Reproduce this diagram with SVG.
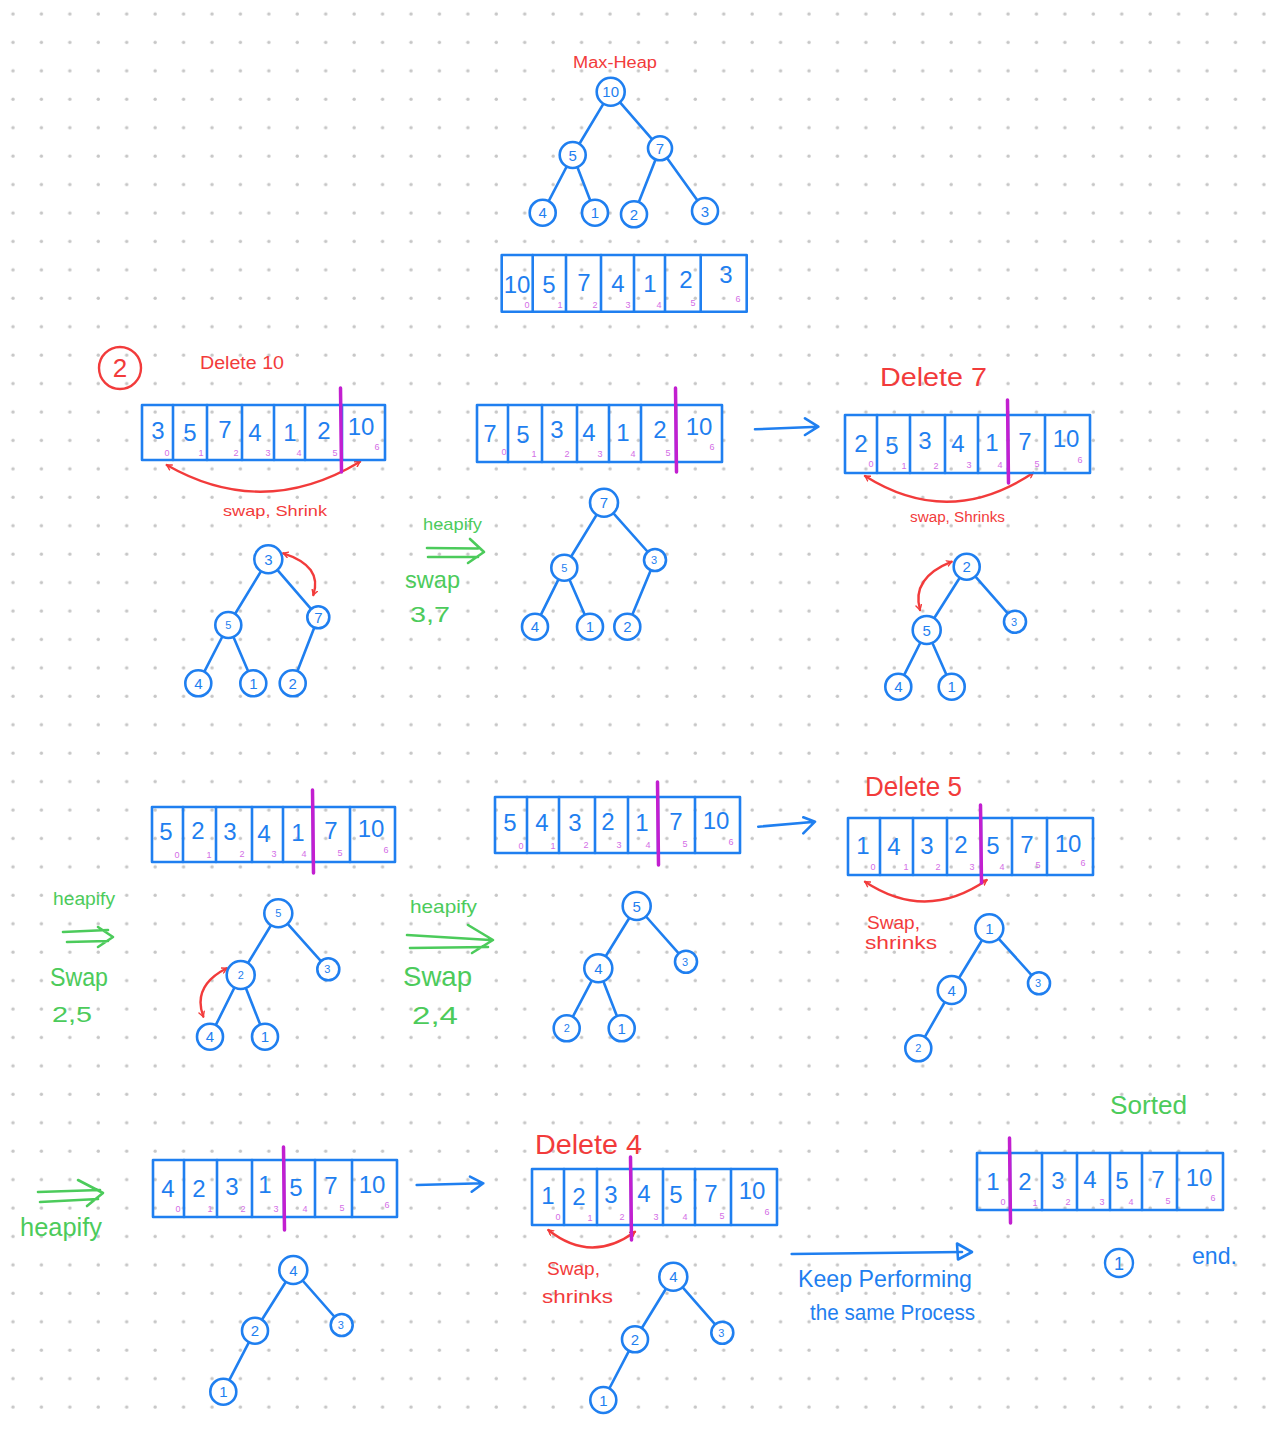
<svg xmlns="http://www.w3.org/2000/svg" width="1266" height="1433" viewBox="0 0 1266 1433">
<defs>
<pattern id="dots" patternUnits="userSpaceOnUse" width="28.43" height="28.43">
<circle cx="13" cy="14" r="1.7" fill="#c6c6c6"/>
</pattern>
<marker id="rh" viewBox="0 0 10 10" refX="8" refY="5" markerWidth="7" markerHeight="7" markerUnits="userSpaceOnUse" orient="auto-start-reverse">
<path d="M1,1 L8,5 L1,9" fill="none" stroke="#f23b3b" stroke-width="2" stroke-linecap="round" stroke-linejoin="round"/>
</marker>
<style>
.b{fill:none;stroke:#1f7ff0;stroke-width:2.6;stroke-linecap:round;stroke-linejoin:round}
.rl{fill:none;stroke:#f23b3b;stroke-width:2.4;stroke-linecap:round;stroke-linejoin:round}
.gl{fill:none;stroke:#4ccb5b;stroke-width:2.6;stroke-linecap:round;stroke-linejoin:round}
.sep{stroke:#c21fd0;stroke-width:3.5;stroke-linecap:round}
.nd circle{fill:#fff;stroke:#1f7ff0;stroke-width:2.6}
.nd text{font-family:"Liberation Sans",Arial,sans-serif;font-size:15px;fill:#1f7ff0;text-anchor:middle}
.nd text.s{font-size:11px}
.arr rect{fill:none;stroke:#1f7ff0;stroke-width:2.6;stroke-linejoin:round}
.arr line.d{stroke:#1f7ff0;stroke-width:2.6;stroke-linecap:round}
.arr text.v{font-family:"Liberation Sans",Arial,sans-serif;font-size:24px;fill:#1f7ff0;text-anchor:middle}
.arr text.i{font-family:"Liberation Sans",Arial,sans-serif;font-size:9px;fill:#d36ee6;text-anchor:middle}
.t{font-family:"Liberation Sans",Arial,sans-serif}
.tr{fill:#f23b3b}
.tg{fill:#4ccb5b}
.tb{fill:#1f7ff0}
</style>
</defs>
<rect width="1266" height="1433" fill="#ffffff"/>
<rect width="1266" height="1433" fill="url(#dots)"/>

<!-- connectors -->
<g id="connectors">
<g class="b">
<path d="M610.7,91.7 L572.7,155 M610.7,91.7 L660,148.3 M572.7,155 L542.7,212.7 M572.7,155 L595,212.7 M660,148.3 L634,214.3 M660,148.3 L705,211"/>
<path d="M268.3,559.3 L228.3,625 M268.3,559.3 L318.3,617.3 M228.3,625 L198.3,683.3 M228.3,625 L253.3,683.3 M318.3,617.3 L292.7,683.3"/>
<path d="M604,502.7 L564.3,567.7 M604,502.7 L655,560 M564.3,567.7 L535,626.7 M564.3,567.7 L590,626.7 M655,560 L627.3,626.7"/>
<path d="M966.7,566.7 L926.7,630 M966.7,566.7 L1015,621.7 M926.7,630 L898.3,686.7 M926.7,630 L951.7,686.7"/>
<path d="M278.3,913.3 L240.7,975 M278.3,913.3 L328.3,969.3 M240.7,975 L210,1036.7 M240.7,975 L265,1036.7"/>
<path d="M636.7,906 L598.3,968.3 M636.7,906 L686,961.7 M598.3,968.3 L566.7,1028.3 M598.3,968.3 L621.7,1028.3"/>
<path d="M989.3,928.3 L951.7,990 M989.3,928.3 L1039,983.3 M951.7,990 L918.3,1048.3"/>
<path d="M293.3,1270 L255,1330.7 M293.3,1270 L341.7,1325 M255,1330.7 L223.3,1391.7"/>
<path d="M673.3,1276.7 L635,1339.3 M673.3,1276.7 L722.3,1332.7 M635,1339.3 L603.3,1400"/>
<path d="M755,429.3 L818.3,426.7 M805,418.3 L818.3,426.7 L805,435"/>
<path d="M758.3,826.7 L815,821.7 M803.3,817.3 L815,821.7 L803.3,833.3"/>
<path d="M416.7,1185 L483.3,1183.3 M470,1176.7 L483.3,1183.3 L471.7,1191.7"/>
<path d="M791.7,1254 L962,1252"/>
<path d="M957,1243.5 L972,1252 L958,1259.5 Z"/>
</g>
<g class="rl">
<path d="M166.7,465 Q263,520 360,461.7" marker-start="url(#rh)" marker-end="url(#rh)"/>
<path d="M865,476 Q949,529 1033.3,472.7" marker-start="url(#rh)" marker-end="url(#rh)"/>
<path d="M865,881.7 Q926,922 986.7,880" marker-start="url(#rh)" marker-end="url(#rh)"/>
<path d="M548.3,1230 Q591,1264 635,1231.7" marker-start="url(#rh)" marker-end="url(#rh)"/>
<path d="M283.3,553.3 Q323,566 313.3,595" marker-start="url(#rh)" marker-end="url(#rh)"/>
<path d="M951.7,561.7 Q911,578 920,610" marker-start="url(#rh)" marker-end="url(#rh)"/>
<path d="M226.7,968.3 Q192,986 203.3,1016.7" marker-start="url(#rh)" marker-end="url(#rh)"/>
</g>
<g class="gl">
<path d="M427,548 L478,548.5 M428,557 L478,557 M470,539 L484,552 L468,563"/>
<path d="M63,932 L108,930 M67,942 L108,941 M98,927 L113,937 L98,947"/>
<path d="M407,935 L490,940 M410,948 L488,947 M468,925 L493,940 L472,953"/>
<path d="M38,1192 L100,1190 M40,1202 L98,1199 M78,1180 L103,1193 L87,1206"/>
</g>
</g>

<!-- labels -->
<g id="labels">
<text class="t tr" x="573" y="68" font-size="16" textLength="84" lengthAdjust="spacingAndGlyphs">Max-Heap</text>
<g id="step2-badge">
<circle cx="120" cy="368" r="21" fill="none" stroke="#f23b3b" stroke-width="2.4"/>
<text class="t tr" x="120" y="377" font-size="26" text-anchor="middle">2</text>
</g>
<text class="t tr" x="200" y="369" font-size="18" textLength="84" lengthAdjust="spacingAndGlyphs">Delete 10</text>
<text class="t tr" x="223" y="516" font-size="15" textLength="104" lengthAdjust="spacingAndGlyphs">swap, Shrink</text>
<text class="t tr" x="880" y="386" font-size="25" textLength="107" lengthAdjust="spacingAndGlyphs">Delete 7</text>
<text class="t tr" x="910" y="522" font-size="14" textLength="95" lengthAdjust="spacingAndGlyphs">swap, Shrinks</text>
<text class="t tg" x="423" y="530" font-size="17" textLength="59" lengthAdjust="spacingAndGlyphs">heapify</text>
<text class="t tg" x="405" y="588" font-size="24" textLength="55" lengthAdjust="spacingAndGlyphs">swap</text>
<text class="t tg" x="410" y="622" font-size="22" textLength="40" lengthAdjust="spacingAndGlyphs">3,7</text>
<text class="t tg" x="53" y="905" font-size="18" textLength="62" lengthAdjust="spacingAndGlyphs">heapify</text>
<text class="t tg" x="50" y="986" font-size="25" textLength="58" lengthAdjust="spacingAndGlyphs">Swap</text>
<text class="t tg" x="52" y="1022" font-size="22" textLength="40" lengthAdjust="spacingAndGlyphs">2,5</text>
<text class="t tg" x="410" y="913" font-size="19" textLength="67" lengthAdjust="spacingAndGlyphs">heapify</text>
<text class="t tg" x="403" y="986" font-size="28" textLength="69" lengthAdjust="spacingAndGlyphs">Swap</text>
<text class="t tg" x="412" y="1024" font-size="24" textLength="46" lengthAdjust="spacingAndGlyphs">2,4</text>
<text class="t tr" x="865" y="796" font-size="28" textLength="97" lengthAdjust="spacingAndGlyphs">Delete 5</text>
<text class="t tr" x="867" y="929" font-size="18" textLength="53" lengthAdjust="spacingAndGlyphs">Swap,</text>
<text class="t tr" x="865" y="949" font-size="18" textLength="72" lengthAdjust="spacingAndGlyphs">shrinks</text>
<text class="t tg" x="20" y="1236" font-size="26" textLength="82" lengthAdjust="spacingAndGlyphs">heapify</text>
<text class="t tr" x="535" y="1154" font-size="28" textLength="107" lengthAdjust="spacingAndGlyphs">Delete 4</text>
<text class="t tr" x="547" y="1275" font-size="18" textLength="53" lengthAdjust="spacingAndGlyphs">Swap,</text>
<text class="t tr" x="542" y="1303" font-size="19" textLength="71" lengthAdjust="spacingAndGlyphs">shrinks</text>
<text class="t tb" x="798" y="1287" font-size="24" textLength="174" lengthAdjust="spacingAndGlyphs">Keep Performing</text>
<text class="t tb" x="810" y="1320" font-size="22" textLength="165" lengthAdjust="spacingAndGlyphs">the same Process</text>
<text class="t tg" x="1110" y="1114" font-size="26" textLength="77" lengthAdjust="spacingAndGlyphs">Sorted</text>
<g id="step1-badge">
<circle cx="1119" cy="1263" r="14" fill="none" stroke="#1f7ff0" stroke-width="2.4"/>
<text class="t tb" x="1119" y="1270" font-size="18" text-anchor="middle">1</text>
</g>
<text class="t tb" x="1192" y="1264" font-size="24" textLength="45" lengthAdjust="spacingAndGlyphs">end.</text>
</g>

<!-- arrays -->
<g id="array1" class="arr">
<rect x="501.7" y="255" width="245" height="56.7"/>
<line class="d" x1="532.7" y1="255" x2="532.7" y2="311.7"/><line class="d" x1="566" y1="255" x2="566" y2="311.7"/><line class="d" x1="601" y1="255" x2="601" y2="311.7"/><line class="d" x1="634" y1="255" x2="634" y2="311.7"/><line class="d" x1="665" y1="255" x2="665" y2="311.7"/><line class="d" x1="700.7" y1="255" x2="700.7" y2="311.7"/>
<text class="v" x="517" y="293">10</text><text class="v" x="549" y="293">5</text><text class="v" x="584" y="291">7</text><text class="v" x="618" y="292">4</text><text class="v" x="650" y="292">1</text><text class="v" x="686" y="288">2</text><text class="v" x="726" y="283">3</text>
<text class="i" x="527" y="308">0</text><text class="i" x="560" y="308">1</text><text class="i" x="595" y="308">2</text><text class="i" x="628" y="308">3</text><text class="i" x="659" y="308">4</text><text class="i" x="693" y="306">5</text><text class="i" x="738" y="302">6</text>
</g>

<g id="array2" class="arr">
<rect x="142" y="405" width="243" height="55"/>
<line class="d" x1="173" y1="405" x2="173" y2="460"/><line class="d" x1="207" y1="405" x2="207" y2="460"/><line class="d" x1="242" y1="405" x2="242" y2="460"/><line class="d" x1="274" y1="405" x2="274" y2="460"/><line class="d" x1="305" y1="405" x2="305" y2="460"/><line class="d" x1="342" y1="405" x2="342" y2="460"/>
<text class="v" x="158" y="439">3</text><text class="v" x="190" y="441">5</text><text class="v" x="225" y="438">7</text><text class="v" x="255" y="441">4</text><text class="v" x="290" y="441">1</text><text class="v" x="324" y="439">2</text><text class="v" x="361" y="435">10</text>
<text class="i" x="167" y="456">0</text><text class="i" x="201" y="456">1</text><text class="i" x="236" y="456">2</text><text class="i" x="268" y="456">3</text><text class="i" x="299" y="456">4</text><text class="i" x="335" y="456">5</text><text class="i" x="377" y="450">6</text>
<line class="sep" x1="340.5" y1="388" x2="341.5" y2="472"/>
</g>

<g id="array3" class="arr">
<rect x="477" y="405" width="245" height="57"/>
<line class="d" x1="508" y1="405" x2="508" y2="462"/><line class="d" x1="542" y1="405" x2="542" y2="462"/><line class="d" x1="577" y1="405" x2="577" y2="462"/><line class="d" x1="609" y1="405" x2="609" y2="462"/><line class="d" x1="641" y1="405" x2="641" y2="462"/><line class="d" x1="676" y1="405" x2="676" y2="462"/>
<text class="v" x="490" y="442">7</text><text class="v" x="523" y="443">5</text><text class="v" x="557" y="438">3</text><text class="v" x="589" y="441">4</text><text class="v" x="623" y="441">1</text><text class="v" x="660" y="438">2</text><text class="v" x="699" y="435">10</text>
<text class="i" x="504" y="455">0</text><text class="i" x="534" y="457">1</text><text class="i" x="567" y="457">2</text><text class="i" x="600" y="457">3</text><text class="i" x="633" y="457">4</text><text class="i" x="668" y="456">5</text><text class="i" x="712" y="450">6</text>
<line class="sep" x1="675.5" y1="388" x2="676.5" y2="472"/>
</g>

<g id="array4" class="arr">
<rect x="845" y="415" width="245" height="58"/>
<line class="d" x1="877" y1="415" x2="877" y2="473"/><line class="d" x1="910" y1="415" x2="910" y2="473"/><line class="d" x1="945" y1="415" x2="945" y2="473"/><line class="d" x1="978" y1="415" x2="978" y2="473"/><line class="d" x1="1008" y1="415" x2="1008" y2="473"/><line class="d" x1="1045" y1="415" x2="1045" y2="473"/>
<text class="v" x="861" y="452">2</text><text class="v" x="892" y="454">5</text><text class="v" x="925" y="449">3</text><text class="v" x="958" y="452">4</text><text class="v" x="992" y="451">1</text><text class="v" x="1025" y="450">7</text><text class="v" x="1066" y="447">10</text>
<text class="i" x="871" y="467">0</text><text class="i" x="904" y="469">1</text><text class="i" x="936" y="469">2</text><text class="i" x="969" y="468">3</text><text class="i" x="1000" y="468">4</text><text class="i" x="1037" y="467">5</text><text class="i" x="1080" y="463">6</text>
<line class="sep" x1="1007.5" y1="400" x2="1008.5" y2="483"/>
</g>

<g id="array5" class="arr">
<rect x="152" y="807" width="243" height="55"/>
<line class="d" x1="183" y1="807" x2="183" y2="862"/><line class="d" x1="216" y1="807" x2="216" y2="862"/><line class="d" x1="252" y1="807" x2="252" y2="862"/><line class="d" x1="283" y1="807" x2="283" y2="862"/><line class="d" x1="313" y1="807" x2="313" y2="862"/><line class="d" x1="350" y1="807" x2="350" y2="862"/>
<text class="v" x="166" y="840">5</text><text class="v" x="198" y="839">2</text><text class="v" x="230" y="840">3</text><text class="v" x="264" y="842">4</text><text class="v" x="298" y="841">1</text><text class="v" x="331" y="839">7</text><text class="v" x="371" y="837">10</text>
<text class="i" x="177" y="858">0</text><text class="i" x="209" y="858">1</text><text class="i" x="242" y="857">2</text><text class="i" x="274" y="857">3</text><text class="i" x="304" y="857">4</text><text class="i" x="340" y="856">5</text><text class="i" x="386" y="853">6</text>
<line class="sep" x1="312.5" y1="790" x2="313.5" y2="873"/>
</g>

<g id="array6" class="arr">
<rect x="495" y="797" width="245" height="56"/>
<line class="d" x1="527" y1="797" x2="527" y2="853"/><line class="d" x1="559" y1="797" x2="559" y2="853"/><line class="d" x1="595" y1="797" x2="595" y2="853"/><line class="d" x1="628" y1="797" x2="628" y2="853"/><line class="d" x1="658" y1="797" x2="658" y2="853"/><line class="d" x1="695" y1="797" x2="695" y2="853"/>
<text class="v" x="510" y="831">5</text><text class="v" x="542" y="831">4</text><text class="v" x="575" y="831">3</text><text class="v" x="608" y="830">2</text><text class="v" x="642" y="831">1</text><text class="v" x="676" y="830">7</text><text class="v" x="716" y="829">10</text>
<text class="i" x="521" y="849">0</text><text class="i" x="553" y="849">1</text><text class="i" x="586" y="848">2</text><text class="i" x="619" y="848">3</text><text class="i" x="648" y="848">4</text><text class="i" x="685" y="847">5</text><text class="i" x="731" y="845">6</text>
<line class="sep" x1="657.5" y1="782" x2="658.5" y2="865"/>
</g>

<g id="array7" class="arr">
<rect x="848" y="818" width="245" height="57"/>
<line class="d" x1="880" y1="818" x2="880" y2="875"/><line class="d" x1="913" y1="818" x2="913" y2="875"/><line class="d" x1="947" y1="818" x2="947" y2="875"/><line class="d" x1="981" y1="818" x2="981" y2="875"/><line class="d" x1="1012" y1="818" x2="1012" y2="875"/><line class="d" x1="1047" y1="818" x2="1047" y2="875"/>
<text class="v" x="863" y="854">1</text><text class="v" x="894" y="855">4</text><text class="v" x="927" y="854">3</text><text class="v" x="961" y="853">2</text><text class="v" x="993" y="854">5</text><text class="v" x="1027" y="853">7</text><text class="v" x="1068" y="852">10</text>
<text class="i" x="873" y="870">0</text><text class="i" x="906" y="870">1</text><text class="i" x="938" y="870">2</text><text class="i" x="972" y="870">3</text><text class="i" x="1002" y="870">4</text><text class="i" x="1038" y="868">5</text><text class="i" x="1083" y="866">6</text>
<line class="sep" x1="980.5" y1="805" x2="981.5" y2="883"/>
</g>

<g id="array8" class="arr">
<rect x="153" y="1160" width="244" height="57"/>
<line class="d" x1="184" y1="1160" x2="184" y2="1217"/><line class="d" x1="217" y1="1160" x2="217" y2="1217"/><line class="d" x1="252" y1="1160" x2="252" y2="1217"/><line class="d" x1="284" y1="1160" x2="284" y2="1217"/><line class="d" x1="315" y1="1160" x2="315" y2="1217"/><line class="d" x1="352" y1="1160" x2="352" y2="1217"/>
<text class="v" x="168" y="1197">4</text><text class="v" x="199" y="1197">2</text><text class="v" x="232" y="1195">3</text><text class="v" x="265" y="1193">1</text><text class="v" x="296" y="1196">5</text><text class="v" x="331" y="1194">7</text><text class="v" x="372" y="1193">10</text>
<text class="i" x="178" y="1212">0</text><text class="i" x="210" y="1212">1</text><text class="i" x="243" y="1212">2</text><text class="i" x="276" y="1212">3</text><text class="i" x="305" y="1212">4</text><text class="i" x="342" y="1211">5</text><text class="i" x="387" y="1208">6</text>
<line class="sep" x1="283.5" y1="1147" x2="284.5" y2="1230"/>
</g>

<g id="array9" class="arr">
<rect x="532" y="1169" width="245" height="56"/>
<line class="d" x1="564" y1="1169" x2="564" y2="1225"/><line class="d" x1="597" y1="1169" x2="597" y2="1225"/><line class="d" x1="631" y1="1169" x2="631" y2="1225"/><line class="d" x1="663" y1="1169" x2="663" y2="1225"/><line class="d" x1="695" y1="1169" x2="695" y2="1225"/><line class="d" x1="731" y1="1169" x2="731" y2="1225"/>
<text class="v" x="548" y="1204">1</text><text class="v" x="579" y="1205">2</text><text class="v" x="611" y="1203">3</text><text class="v" x="644" y="1202">4</text><text class="v" x="676" y="1203">5</text><text class="v" x="711" y="1202">7</text><text class="v" x="752" y="1199">10</text>
<text class="i" x="558" y="1220">0</text><text class="i" x="590" y="1221">1</text><text class="i" x="622" y="1220">2</text><text class="i" x="656" y="1220">3</text><text class="i" x="685" y="1220">4</text><text class="i" x="722" y="1219">5</text><text class="i" x="767" y="1215">6</text>
<line class="sep" x1="630.5" y1="1157" x2="631.5" y2="1240"/>
</g>

<g id="array10" class="arr">
<rect x="977" y="1153" width="246" height="57"/>
<line class="d" x1="1010" y1="1153" x2="1010" y2="1210"/><line class="d" x1="1042" y1="1153" x2="1042" y2="1210"/><line class="d" x1="1077" y1="1153" x2="1077" y2="1210"/><line class="d" x1="1110" y1="1153" x2="1110" y2="1210"/><line class="d" x1="1142" y1="1153" x2="1142" y2="1210"/><line class="d" x1="1177" y1="1153" x2="1177" y2="1210"/>
<text class="v" x="993" y="1190">1</text><text class="v" x="1025" y="1190">2</text><text class="v" x="1058" y="1189">3</text><text class="v" x="1090" y="1188">4</text><text class="v" x="1122" y="1189">5</text><text class="v" x="1158" y="1188">7</text><text class="v" x="1199" y="1186">10</text>
<text class="i" x="1003" y="1205">0</text><text class="i" x="1035" y="1206">1</text><text class="i" x="1068" y="1205">2</text><text class="i" x="1102" y="1205">3</text><text class="i" x="1131" y="1205">4</text><text class="i" x="1168" y="1204">5</text><text class="i" x="1213" y="1201">6</text>
<line class="sep" x1="1009.5" y1="1138" x2="1010.5" y2="1223"/>
</g>

<!-- tree nodes -->
<g id="t1-10" class="nd"><circle cx="610.7" cy="91.7" r="14"/><text x="610.7" y="97">10</text></g>
<g id="t1-5" class="nd"><circle cx="572.7" cy="155" r="13"/><text x="572.7" y="160.5">5</text></g>
<g id="t1-7" class="nd"><circle cx="660" cy="148.3" r="12"/><text x="660" y="153.8">7</text></g>
<g id="t1-4" class="nd"><circle cx="542.7" cy="212.7" r="13"/><text x="542.7" y="218.2">4</text></g>
<g id="t1-1" class="nd"><circle cx="595" cy="212.7" r="13"/><text x="595" y="218.2">1</text></g>
<g id="t1-2" class="nd"><circle cx="634" cy="214.3" r="13"/><text x="634" y="219.8">2</text></g>
<g id="t1-3" class="nd"><circle cx="705" cy="211" r="13"/><text x="705" y="216.5">3</text></g>

<g id="t2-3" class="nd"><circle cx="268.3" cy="559.3" r="14"/><text x="268.3" y="564.8">3</text></g>
<g id="t2-5" class="nd"><circle cx="228.3" cy="625" r="13"/><text class="s" x="228.3" y="629">5</text></g>
<g id="t2-7" class="nd"><circle cx="318.3" cy="617.3" r="11"/><text x="318.3" y="622.5">7</text></g>
<g id="t2-4" class="nd"><circle cx="198.3" cy="683.3" r="13"/><text x="198.3" y="688.8">4</text></g>
<g id="t2-1" class="nd"><circle cx="253.3" cy="683.3" r="13"/><text x="253.3" y="688.8">1</text></g>
<g id="t2-2" class="nd"><circle cx="292.7" cy="683.3" r="13"/><text x="292.7" y="688.8">2</text></g>

<g id="t3-7" class="nd"><circle cx="604" cy="502.7" r="14"/><text x="604" y="508.2">7</text></g>
<g id="t3-5" class="nd"><circle cx="564.3" cy="567.7" r="13"/><text class="s" x="564.3" y="571.7">5</text></g>
<g id="t3-3" class="nd"><circle cx="655" cy="560" r="11"/><text class="s" x="654" y="564">3</text></g>
<g id="t3-4" class="nd"><circle cx="535" cy="626.7" r="13"/><text x="535" y="632.2">4</text></g>
<g id="t3-1" class="nd"><circle cx="590" cy="626.7" r="13"/><text x="590" y="632.2">1</text></g>
<g id="t3-2" class="nd"><circle cx="627.3" cy="626.7" r="13"/><text x="627.3" y="632.2">2</text></g>

<g id="t4-2" class="nd"><circle cx="966.7" cy="566.7" r="13"/><text x="966.7" y="572.2">2</text></g>
<g id="t4-5" class="nd"><circle cx="926.7" cy="630" r="14"/><text x="926.7" y="635.5">5</text></g>
<g id="t4-3" class="nd"><circle cx="1015" cy="621.7" r="11"/><text class="s" x="1014" y="625.7">3</text></g>
<g id="t4-4" class="nd"><circle cx="898.3" cy="686.7" r="13"/><text x="898.3" y="692.2">4</text></g>
<g id="t4-1" class="nd"><circle cx="951.7" cy="686.7" r="13"/><text x="951.7" y="692.2">1</text></g>

<g id="t5-5" class="nd"><circle cx="278.3" cy="913.3" r="14"/><text class="s" x="278.3" y="917.3">5</text></g>
<g id="t5-2" class="nd"><circle cx="240.7" cy="975" r="14"/><text class="s" x="240.7" y="979">2</text></g>
<g id="t5-3" class="nd"><circle cx="328.3" cy="969.3" r="11"/><text class="s" x="327.3" y="973.3">3</text></g>
<g id="t5-4" class="nd"><circle cx="210" cy="1036.7" r="13"/><text x="210" y="1042.2">4</text></g>
<g id="t5-1" class="nd"><circle cx="265" cy="1036.7" r="13"/><text x="265" y="1042.2">1</text></g>

<g id="t6-5" class="nd"><circle cx="636.7" cy="906" r="14"/><text x="636.7" y="911.5">5</text></g>
<g id="t6-4" class="nd"><circle cx="598.3" cy="968.3" r="14"/><text x="598.3" y="973.8">4</text></g>
<g id="t6-3" class="nd"><circle cx="686" cy="961.7" r="11"/><text class="s" x="685" y="965.7">3</text></g>
<g id="t6-2" class="nd"><circle cx="566.7" cy="1028.3" r="13"/><text class="s" x="566.7" y="1032.3">2</text></g>
<g id="t6-1" class="nd"><circle cx="621.7" cy="1028.3" r="13"/><text x="621.7" y="1033.8">1</text></g>

<g id="t7-1" class="nd"><circle cx="989.3" cy="928.3" r="14"/><text x="989.3" y="933.8">1</text></g>
<g id="t7-4" class="nd"><circle cx="951.7" cy="990" r="14"/><text x="951.7" y="995.5">4</text></g>
<g id="t7-3" class="nd"><circle cx="1039" cy="983.3" r="11"/><text class="s" x="1038" y="987.3">3</text></g>
<g id="t7-2" class="nd"><circle cx="918.3" cy="1048.3" r="13"/><text class="s" x="918.3" y="1052.3">2</text></g>

<g id="t8-4" class="nd"><circle cx="293.3" cy="1270" r="14"/><text x="293.3" y="1275.5">4</text></g>
<g id="t8-2" class="nd"><circle cx="255" cy="1330.7" r="13"/><text x="255" y="1336.2">2</text></g>
<g id="t8-3" class="nd"><circle cx="341.7" cy="1325" r="11"/><text class="s" x="340.7" y="1329">3</text></g>
<g id="t8-1" class="nd"><circle cx="223.3" cy="1391.7" r="13"/><text x="223.3" y="1397.2">1</text></g>

<g id="t9-4" class="nd"><circle cx="673.3" cy="1276.7" r="14"/><text x="673.3" y="1282.2">4</text></g>
<g id="t9-2" class="nd"><circle cx="635" cy="1339.3" r="13"/><text x="635" y="1344.8">2</text></g>
<g id="t9-3" class="nd"><circle cx="722.3" cy="1332.7" r="11"/><text class="s" x="721.3" y="1336.7">3</text></g>
<g id="t9-1" class="nd"><circle cx="603.3" cy="1400" r="13"/><text x="603.3" y="1405.5">1</text></g>
</svg>
